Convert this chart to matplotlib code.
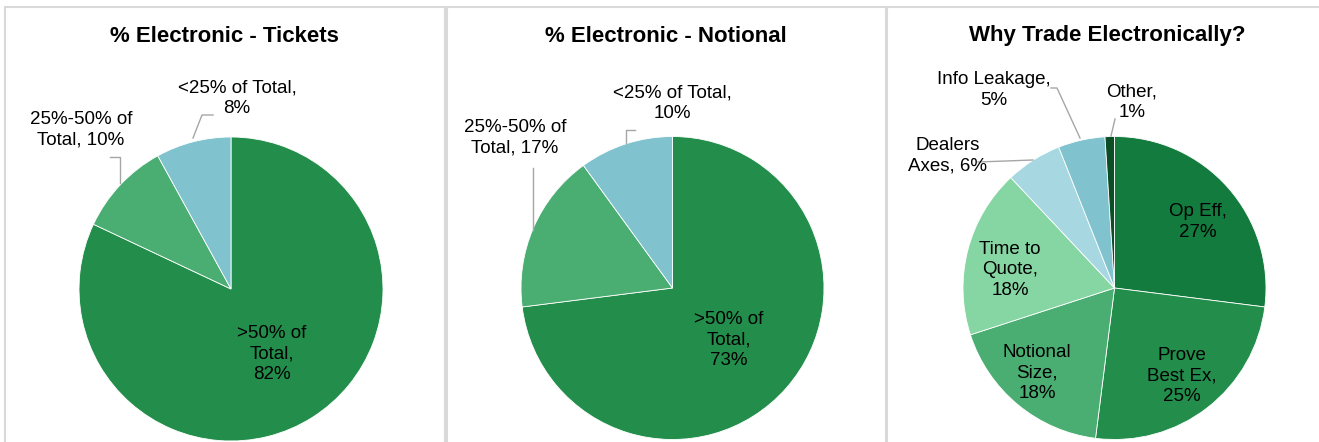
import matplotlib
matplotlib.use("Agg")
import matplotlib.pyplot as plt
from matplotlib.patches import Rectangle
from matplotlib.lines import Line2D

plt.rcParams['font.family'] = ['Liberation Sans', 'DejaVu Sans']

W, H = 1319, 442

# data
tickets_labels = [">50% of\nTotal,\n82%", "25%-50% of\nTotal, 10%", "<25% of Total,\n8%"]
tickets_vals = [82, 10, 8]
notional_labels = [">50% of\nTotal,\n73%", "25%-50% of\nTotal, 17%", "<25% of Total,\n10%"]
notional_vals = [73, 17, 10]
why_labels = ["Op Eff,\n27%", "Prove\nBest Ex,\n25%", "Notional\nSize,\n18%", "Time to\nQuote,\n18%",
              "Dealers\nAxes, 6%", "Info Leakage,\n5%", "Other,\n1%"]
why_vals = [27, 25, 18, 18, 6, 5, 1]

titles = ["% Electronic - Tickets", "% Electronic - Notional", "Why Trade Electronically?"]

green = "#238E4B"
mid_green = "#4AAD72"
teal = "#80C3CE"
colors_3 = [green, mid_green, teal]
colors_why = ["#137B3E", "#238E4B", "#4AAD72", "#86D6A3", "#A7D8E2", "#80C3CE", "#0B4D25"]

fig = plt.figure(figsize=(W / 100, H / 100), dpi=100)


def fx(x):
    return x / W


def fy(y):
    return 1 - y / H


# panel borders
border = "#D9D9D9"
for x0, x1 in [(5, 445), (447, 886), (887, 1325)]:
    fig.patches.append(Rectangle((fx(x0), fy(460)), fx(x1) - fx(x0), fy(7) - fy(460),
                                 transform=fig.transFigure, fill=False, edgecolor=border,
                                 linewidth=1.5))


def pie_axes(cx, cy, r):
    ax = fig.add_axes([fx(cx - r), fy(cy + r), 2 * r / W, 2 * r / H])
    return ax


def text(x, y, s, **kw):
    fig.text(fx(x), fy(y), s, ha="center", va="center", fontsize=13.5, linespacing=1.25,
             color="#000000", **kw)


def leader(xs, ys):
    fig.lines.append(Line2D([fx(v) for v in xs], [fy(v) for v in ys], transform=fig.transFigure,
                            color="#A6A6A6", linewidth=1))


pies = [
    (231, 289, 152, tickets_vals, colors_3),
    (672.5, 288, 151.5, notional_vals, colors_3),
    (1114.5, 288, 151.5, why_vals, colors_why),
]
for cx, cy, r, vals, cols in pies:
    ax = pie_axes(cx, cy, r)
    ax.pie(vals, colors=cols, startangle=90, counterclock=False, radius=1,
           wedgeprops=dict(edgecolor="white", linewidth=0.6))
    ax.set_xlim(-1, 1)
    ax.set_ylim(-1, 1)
    ax.axis("off")

# titles
for (x, y), t in zip([(224, 36), (665.5, 36), (1107.5, 36)], titles):
    fig.text(fx(x), fy(y), t, ha="center", va="center", fontsize=16, fontweight="bold")

# panel 1 labels
text(272, 354, tickets_labels[0])
text(81, 130, tickets_labels[1])
text(237, 98, tickets_labels[2])
leader([120, 120, 110], [183, 157, 157])
leader([193, 202, 213], [138, 115, 115])

# panel 2 labels
text(729, 340, notional_labels[0])
text(515, 138, notional_labels[1])
text(672, 103, notional_labels[2])
leader([533, 533], [230, 168])
leader([626, 626, 635], [143, 130, 130])

# panel 3 labels
text(1198, 222, why_labels[0])
text(1182, 376, why_labels[1])
text(1037, 373, why_labels[2])
text(1010, 270, why_labels[3])
text(948, 156, why_labels[4])
text(994, 90, why_labels[5])
text(1132, 102, why_labels[6])
leader([1033, 978], [160, 162])
leader([1080, 1057, 1051], [138, 88, 88])
leader([1111, 1115], [136, 119])

fig.savefig("out.png", dpi=100, facecolor="white")
